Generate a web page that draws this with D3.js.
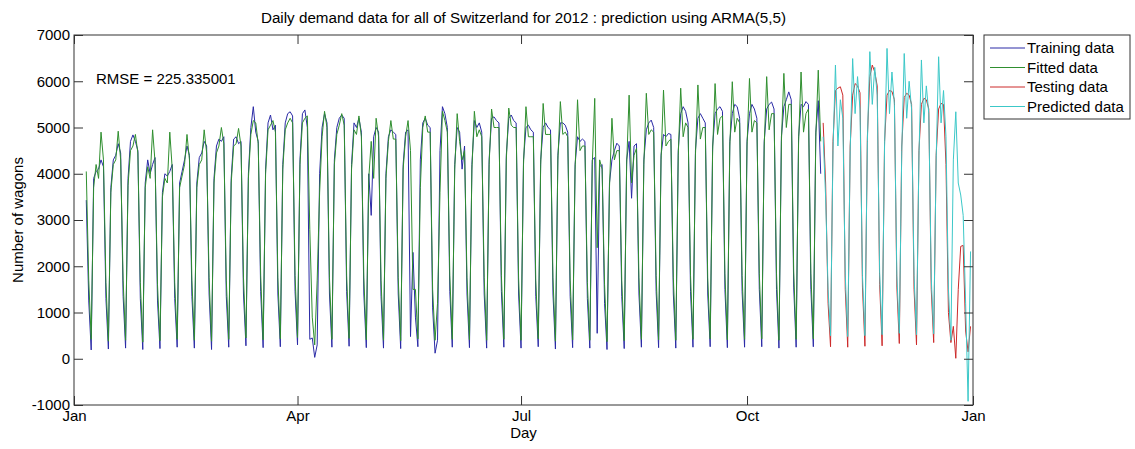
<!DOCTYPE html>
<meta charset="utf-8">
<style>
  body { margin: 0; background: #fff; }
  svg { font-family: "Liberation Sans", Arial, sans-serif; }
  .axis text { font-size: 15px; fill: #000; }
  .axis line { stroke: #333; }
  .series { fill: none; stroke-width: 1; }
</style>
<svg width="1135" height="449"></svg>
<script src="https://d3js.org/d3.v7.min.js"></script>
<script>
  // first day of each series (daily data)
  var trainStart = "2012-01-06",
    testStart = "2012-11-01";

  // wagons per day, Jan 6 - Oct 31 (rows are Sun..Sat weeks)
  var training = [
    3430, 1250,
    190, 3900, 4050, 4100, 4300, 4150, 1300,
    210, 3700, 4300, 4400, 4650, 4450, 1350,
    230, 3900, 4700, 4840, 4700, 4500, 1300,
    200, 3800, 4300, 4000, 4200, 4350, 1250,
    220, 3600, 4000, 3950, 4050, 4200, 1300,
    250, 3800, 4050, 4300, 4600, 4400, 1350,
    230, 3800, 4350, 4450, 4700, 4600, 1400,
    200, 3900, 4600, 4750, 4700, 4800, 1350,
    250, 3900, 4750, 4800, 4650, 4700, 1400,
    280, 4000, 5000, 5450, 4900, 4700, 1450,
    240, 4100, 5100, 5270, 4950, 5050, 1400,
    260, 4200, 5100, 5300, 5340, 5250, 1450,
    300, 4300, 5300, 5380, 5000, 420, 450,
    30, 300, 4000, 5000, 5300, 5100, 1400,
    250, 4300, 5000, 5200, 5270, 5200, 1450,
    270, 4200, 5100, 5000, 5200, 4900, 1400,
    240, 4000, 3100, 4800, 5000, 4900, 1350,
    230, 4000, 4800, 4950, 4900, 4850, 1400,
    220, 4200, 4900, 4950, 480, 2300, 900,
    260, 4300, 5100, 5200, 5050, 5000, 1100,
    120, 400, 4500, 5450, 5300, 5000, 1450,
    250, 4200, 5000, 4900, 4100, 4600, 1400,
    240, 4200, 5150, 5000, 5100, 4900, 1400,
    230, 4300, 5200, 5230, 5150, 5100, 1450,
    250, 4400, 5200, 5270, 5150, 5100, 1400,
    230, 4300, 5000, 5050, 4950, 4900, 1350,
    260, 4300, 5000, 5100, 5000, 4950, 1400,
    210, 4400, 5100, 5100, 5050, 4900, 1350,
    240, 4200, 4800, 4700, 4750, 4700, 1300,
    230, 4300, 4350, 550, 4150, 4200, 1200,
    200, 3800, 4300, 4500, 4660, 4600, 1350,
    220, 4300, 4700, 3470, 4600, 4650, 1400,
    250, 4300, 4950, 5100, 5160, 5000, 1450,
    240, 4400, 4850, 4800, 4870, 4850, 1400,
    230, 4500, 5300, 5450, 5350, 5100, 1450,
    250, 4500, 5200, 5300, 5200, 5100, 1400,
    260, 4600, 5300, 5400, 5450, 5350, 1500,
    240, 4700, 5300, 5500, 5450, 5200, 1450,
    250, 4700, 5300, 5500, 5400, 5200, 1500,
    260, 4700, 5400, 5500, 5550, 5400, 1500,
    230, 4800, 5450, 5600, 5770, 5600, 1550,
    250, 4800, 5500, 5450, 5560, 5500, 1500,
    260, 4900, 5580, 4000
  ];

  // ARMA(5,5) fitted values, same days as training
  var fitted = [
    4050, 1700,
    420, 3700, 4200, 3900, 4900, 4300, 1650,
    380, 3600, 4200, 4300, 4920, 4300, 1700,
    400, 3750, 4500, 4600, 4850, 4450, 1650,
    360, 3700, 4150, 3900, 4950, 4250, 1600,
    390, 3500, 3900, 3800, 4900, 4100, 1650,
    420, 3700, 3950, 4200, 4850, 4300, 1700,
    400, 3700, 4200, 4300, 4950, 4450, 1750,
    380, 3800, 4450, 4600, 5000, 4650, 1700,
    420, 3800, 4600, 4650, 4980, 4600, 1750,
    450, 3900, 4850, 5150, 5100, 4650, 1800,
    410, 4000, 4950, 5050, 5150, 4900, 1750,
    430, 4100, 4950, 5100, 5200, 5100, 1800,
    460, 4200, 5100, 5200, 5250, 2800, 900,
    300, 1700, 3600, 4800, 5350, 5000, 1750,
    420, 4200, 4850, 5050, 5300, 5050, 1800,
    440, 4100, 4950, 4850, 5250, 4800, 1750,
    410, 3900, 4700, 3900, 5200, 4800, 1700,
    400, 3900, 4700, 5150, 4750, 4750, 1750,
    390, 4100, 4800, 5150, 4500, 1500, 1500,
    430, 3700, 5000, 5250, 4900, 4900, 1500,
    400, 1200, 3600, 5350, 5150, 4900, 1800,
    420, 4100, 5300, 4700, 4300, 4500, 1750,
    410, 4100, 5350, 4800, 4950, 4800, 1750,
    400, 4200, 5400, 5000, 5000, 5000, 1800,
    420, 4300, 5420, 5050, 5000, 5000, 1750,
    400, 4200, 5450, 4800, 4800, 4800, 1700,
    430, 4200, 5520, 4850, 4850, 4850, 1750,
    380, 4300, 5560, 4850, 4900, 4800, 1700,
    410, 4100, 5600, 4500, 4600, 4600, 1650,
    400, 4200, 5630, 2400, 4300, 4100, 1600,
    370, 3700, 5200, 4300, 4500, 4500, 1700,
    390, 4200, 5700, 3800, 4400, 4550, 1750,
    420, 4200, 5740, 4850, 4950, 4900, 1800,
    410, 4300, 5810, 4600, 4700, 4750, 1750,
    400, 4400, 5850, 4800, 5100, 5000, 1800,
    420, 4400, 5920, 4750, 5000, 5000, 1750,
    430, 4500, 5950, 4850, 5200, 5250, 1850,
    410, 4600, 5990, 4900, 5200, 5100, 1800,
    420, 4600, 6060, 4900, 5150, 5100, 1850,
    430, 4600, 6100, 4950, 5300, 5300, 1850,
    400, 4700, 6170, 5000, 5500, 5500, 1900,
    420, 4700, 6200, 4900, 5300, 5400, 1850,
    430, 4800, 6240, 4700
  ];

  // held-out days, Nov 1 - Dec 31
  var testing = [
    5100, 3800, 1200,
    260, 4700, 5800, 5850, 5880, 5700, 1500,
    250, 4600, 5700, 5950, 5900, 5750, 1550,
    270, 4800, 6100, 6350, 6200, 5900, 1600,
    280, 4700, 5700, 5800, 5780, 5600, 1550,
    330, 4600, 5650, 5740, 5700, 5500, 1500,
    300, 4500, 5500, 5630, 5600, 5400, 1500,
    350, 4400, 5400, 5520, 5500, 4200, 1000,
    350, 700, 10, 1500, 2430, 2450, 600,
    150, 700
  ];

  var predicted = [
    4800, 3500, 1500,
    500, 4500, 6350, 4600, 5600, 5200, 1800,
    480, 4500, 6490, 5300, 6100, 5400, 1800,
    500, 4700, 6640, 5500, 6300, 5700, 1850,
    520, 4600, 6710, 5300, 6200, 5500, 1800,
    550, 4500, 6600, 5200, 6000, 5400, 1800,
    520, 4400, 6460, 5100, 5900, 5300, 1750,
    540, 4300, 6530, 5100, 5800, 4800, 1500,
    400, 4300, 5340, 3800, 3540, 3100, 1200,
    -920, 2320
  ];

  var yTicks = [-1000, 0, 1000, 2000, 3000, 4000, 5000, 6000, 7000];
  var monthTicks = ["2012-01-01", "2012-04-01", "2012-07-01", "2012-10-01", "2013-01-01"];
  var seriesNames = ["Training data", "Fitted data", "Testing data", "Predicted data"];
  var seriesColors = ["#2a2aa6", "#2f8f2f", "#cc2a2a", "#3cc8c8"];

  var svg = d3.select("svg"),
    plotL = 74, plotR = 973, plotT = 35, plotB = 405;

  var parse = d3.timeParse("%Y-%m-%d");
  var monthDates = monthTicks.map(parse);

  var x = d3.scaleTime()
    .domain([monthDates[0], monthDates[monthDates.length - 1]])
    .range([plotL, plotR]);

  var y = d3.scaleLinear()
    .domain([-1000, 7000])
    .range([plotB, plotT]);

  function toPoints(values, start) {
    var s = parse(start);
    return values.map(function (v, i) { return [d3.timeDay.offset(s, i), v]; });
  }

  var series = [
    toPoints(training, trainStart),
    toPoints(fitted, trainStart),
    toPoints(testing, testStart),
    toPoints(predicted, testStart)
  ];

  var line = d3.line()
    .x(function (d) { return x(d[0]); })
    .y(function (d) { return y(d[1]); });

  svg.append("g").selectAll("path.series")
    .data(series)
    .enter().append("path")
    .attr("class", "series")
    .attr("d", line)
    .attr("stroke", function (d, i) { return seriesColors[i]; });

  // axes box with inner ticks like matlab
  svg.append("rect")
    .attr("x", plotL).attr("y", plotT)
    .attr("width", plotR - plotL).attr("height", plotB - plotT)
    .attr("fill", "none").attr("stroke", "#333");

  var fmt = function (d) { return String(d); };

  svg.append("g").attr("class", "axis")
    .attr("transform", "translate(" + plotL + ",0)")
    .call(d3.axisLeft(y).tickValues(yTicks).tickSize(-9).tickPadding(4).tickFormat(fmt))
    .call(function (g) { g.select(".domain").remove(); });

  svg.append("g").attr("class", "axis")
    .attr("transform", "translate(" + plotR + ",0)")
    .call(d3.axisRight(y).tickValues(yTicks).tickSize(-9).tickFormat(""))
    .call(function (g) { g.select(".domain").remove(); });

  svg.append("g").attr("class", "axis")
    .attr("transform", "translate(0," + plotB + ")")
    .call(d3.axisBottom(x).tickValues(monthDates).tickSize(-9).tickPadding(5).tickFormat(d3.timeFormat("%b")))
    .call(function (g) { g.select(".domain").remove(); });

  svg.append("g").attr("class", "axis")
    .attr("transform", "translate(0," + plotT + ")")
    .call(d3.axisTop(x).tickValues(monthDates).tickSize(-9).tickFormat(""))
    .call(function (g) { g.select(".domain").remove(); });

  svg.append("text")
    .attr("x", (plotL + plotR) / 2).attr("y", 23)
    .attr("text-anchor", "middle")
    .style("font-size", "15.2px")
    .text("Daily demand data for all of Switzerland for 2012 : prediction using ARMA(5,5)");

  svg.append("text")
    .attr("x", (plotL + plotR) / 2).attr("y", 438)
    .attr("text-anchor", "middle")
    .style("font-size", "15px")
    .text("Day");

  svg.append("text")
    .attr("transform", "translate(23," + (plotT + plotB) / 2 + ") rotate(-90)")
    .attr("text-anchor", "middle")
    .style("font-size", "15px")
    .text("Number of wagons");

  svg.append("text")
    .attr("x", 96).attr("y", 84)
    .style("font-size", "15px")
    .text("RMSE = 225.335001");

  // legend
  var legend = svg.append("g");
  legend.append("rect")
    .attr("x", 984).attr("y", 35).attr("width", 146).attr("height", 84)
    .attr("fill", "#fff").attr("stroke", "#333");

  var item = legend.selectAll("g.item")
    .data(seriesNames)
    .enter().append("g")
    .attr("transform", function (d, i) { return "translate(0," + (48 + i * 19.5) + ")"; });

  item.append("line")
    .attr("x1", 990).attr("x2", 1025)
    .attr("stroke", function (d, i) { return seriesColors[i]; });

  item.append("text")
    .attr("x", 1027).attr("dy", "0.35em")
    .style("font-size", "15px")
    .text(function (d) { return d; });
</script>
